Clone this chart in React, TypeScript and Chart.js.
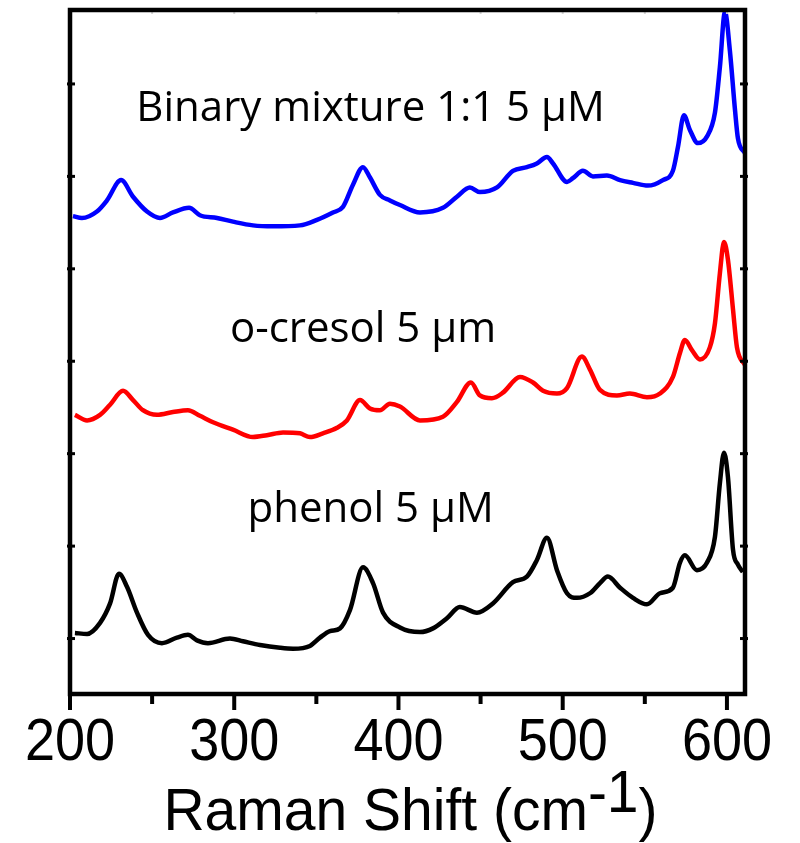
import React, { useEffect, useRef } from 'react';
import { Chart, registerables } from 'chart.js';

Chart.register(...registerables);

// Raman shift (cm-1) and intensity (a.u., offset stacked) for each spectrum
const mixtureX = [201.8, 207.3, 216.4, 222.5, 231.1, 238.4, 246.9, 254.8, 262.7, 272.5, 279.1, 289.5, 299.2, 311.4, 323.6, 340.0, 350.4, 360.1, 366.2, 372.3, 378.4, 382.6, 388.7, 394.8, 400.9, 413.1, 427.1, 435.6, 443.5, 449.6, 460.0, 469.7, 478.2, 484.3, 490.4, 494.1, 502.6, 506.2, 512.3, 518.4, 526.9, 534.9, 542.8, 551.9, 561.0, 567.1, 570.2, 573.8, 577.5, 582.3, 587.8, 592.7, 595.7, 598.8, 601.8, 604.9, 606.7, 611.0];
const mixtureY = [4.57, 4.55, 4.62, 4.74, 4.96, 4.78, 4.62, 4.55, 4.61, 4.66, 4.58, 4.55, 4.51, 4.47, 4.46, 4.47, 4.53, 4.61, 4.67, 4.91, 5.10, 4.99, 4.80, 4.74, 4.69, 4.61, 4.66, 4.78, 4.88, 4.83, 4.88, 5.06, 5.10, 5.14, 5.21, 5.14, 4.94, 4.98, 5.06, 5.00, 5.01, 4.96, 4.93, 4.90, 4.96, 5.06, 5.32, 5.66, 5.50, 5.36, 5.43, 5.69, 6.18, 6.78, 6.36, 5.72, 5.41, 5.25];

const cresolX = [203.0, 210.4, 218.3, 224.4, 232.3, 238.4, 244.4, 253.0, 262.7, 271.8, 279.1, 287.1, 299.2, 311.4, 319.9, 329.7, 340.0, 346.1, 354.0, 362.6, 368.6, 376.6, 382.6, 388.7, 394.8, 400.9, 413.1, 427.1, 435.6, 444.1, 449.6, 456.9, 463.6, 474.0, 481.9, 488.0, 496.5, 502.6, 511.7, 516.6, 522.7, 533.0, 540.9, 551.3, 559.2, 567.1, 571.4, 574.4, 578.7, 583.6, 589.6, 592.7, 595.7, 598.2, 600.6, 603.7, 606.1, 611.0];
const cresolY = [2.42, 2.36, 2.42, 2.53, 2.68, 2.58, 2.47, 2.42, 2.45, 2.47, 2.41, 2.34, 2.26, 2.18, 2.20, 2.23, 2.22, 2.18, 2.22, 2.28, 2.36, 2.58, 2.49, 2.47, 2.54, 2.51, 2.36, 2.40, 2.56, 2.77, 2.63, 2.60, 2.66, 2.83, 2.77, 2.68, 2.65, 2.71, 3.05, 2.91, 2.69, 2.63, 2.65, 2.61, 2.65, 2.83, 3.09, 3.23, 3.12, 3.02, 3.15, 3.41, 3.95, 4.29, 4.10, 3.56, 3.15, 2.96];

const phenolX = [203.0, 210.4, 218.3, 224.4, 229.8, 234.7, 240.8, 247.5, 256.0, 265.1, 271.8, 277.3, 284.0, 297.4, 305.3, 315.7, 327.9, 335.8, 346.1, 352.2, 358.3, 364.4, 370.5, 378.4, 384.5, 390.6, 400.9, 413.1, 421.0, 429.5, 437.4, 447.8, 457.5, 469.7, 478.2, 484.3, 490.4, 496.5, 502.6, 508.7, 516.6, 522.7, 527.5, 534.9, 542.8, 551.3, 559.2, 567.1, 571.4, 574.4, 581.7, 587.8, 592.7, 595.7, 598.2, 600.6, 603.7, 606.7, 609.7];
const phenolY = [0.06, 0.05, 0.17, 0.38, 0.70, 0.56, 0.28, 0.04, -0.05, 0.01, 0.04, -0.02, -0.05, 0.00, -0.03, -0.07, -0.10, -0.11, -0.08, 0.01, 0.08, 0.11, 0.31, 0.77, 0.60, 0.28, 0.12, 0.07, 0.11, 0.22, 0.34, 0.28, 0.38, 0.61, 0.67, 0.85, 1.09, 0.74, 0.49, 0.44, 0.49, 0.60, 0.67, 0.55, 0.44, 0.37, 0.49, 0.55, 0.82, 0.90, 0.74, 0.82, 1.10, 1.68, 2.01, 1.75, 0.96, 0.80, 0.72];

const xTickValues = [200, 300, 400, 500, 600];
const xMinorTickValues = [250, 350, 450, 550];
const yTickValues = [0, 1, 2, 3, 4, 5, 6];

const seriesLabels = ['Binary mixture 1:1 5 µM', 'o-cresol 5 µm', 'phenol 5 µM'];
const seriesColors = ['#0000ff', '#ff0000', '#000000'];
const labelPosX = [383, 378.4, 383];
const labelPosY = [5.6, 3.21, 1.26];

const axisTitleMain = 'Raman Shift (cm';
const axisTitleSup = '-1';
const axisTitleEnd = ')';

const AXIS_FONT = '"Liberation Sans", Arial, sans-serif';

const toPoints = (xs: number[], ys: number[]) => xs.map((x, i) => ({ x, y: ys[i] }));

const framePlugin = {
  id: 'frameAndText',
  afterDraw(chart: any) {
    const { ctx, chartArea: a, scales } = chart;
    const xs = scales.x;
    const ys = scales.y;
    const line = (x1: number, y1: number, x2: number, y2: number) => {
      ctx.beginPath();
      ctx.moveTo(x1, y1);
      ctx.lineTo(x2, y2);
      ctx.stroke();
    };
    ctx.save();
    // faint top ticks
    ctx.strokeStyle = '#d5d5d5';
    ctx.lineWidth = 2;
    [...xTickValues, ...xMinorTickValues].forEach((v) => {
      const px = xs.getPixelForValue(v);
      line(px, a.top + 1, px, a.top + 4);
    });
    // frame
    ctx.strokeStyle = '#000';
    ctx.lineWidth = 4.5;
    ctx.strokeRect(a.left, a.top, a.right - a.left, a.bottom - a.top);
    // x ticks
    ctx.lineWidth = 4;
    xTickValues.forEach((v) => {
      const px = xs.getPixelForValue(v);
      line(px, a.bottom, px, a.bottom + 16);
    });
    xMinorTickValues.forEach((v) => {
      const px = xs.getPixelForValue(v);
      line(px, a.bottom, px, a.bottom + 10);
    });
    // y ticks (left and right)
    ctx.lineWidth = 3;
    yTickValues.forEach((v) => {
      const py = ys.getPixelForValue(v);
      line(a.left - 3, py, a.left + 5, py);
      line(a.right - 5, py, a.right + 3, py);
    });
    // x tick labels (condensed)
    ctx.fillStyle = '#000';
    ctx.font = '60px ' + AXIS_FONT;
    ctx.textAlign = 'center';
    ctx.textBaseline = 'alphabetic';
    const sx = 0.9;
    xTickValues.forEach((v) => {
      const px = xs.getPixelForValue(v);
      ctx.save();
      ctx.translate(px, 760);
      ctx.scale(sx, 1);
      ctx.fillText(String(v), 0, 0);
      ctx.restore();
    });
    // series labels
    ctx.font = '42px "Open Sans", Lato, sans-serif';
    seriesLabels.forEach((t, i) => {
      ctx.fillText(t, xs.getPixelForValue(labelPosX[i]), ys.getPixelForValue(labelPosY[i]));
    });
    // axis title with superscript
    ctx.font = '60px ' + AXIS_FONT;
    ctx.textAlign = 'left';
    const st = 0.95;
    const w1 = ctx.measureText(axisTitleMain).width;
    const w2 = ctx.measureText(axisTitleSup).width;
    const w3 = ctx.measureText(axisTitleEnd).width;
    const total = (w1 + w2 + w3) * st;
    const start = (a.left + a.right) / 2 - total / 2 + 3;
    const base = 830;
    ctx.save();
    ctx.translate(start, base);
    ctx.scale(st, 1);
    ctx.fillText(axisTitleMain, 0, 0);
    ctx.fillText(axisTitleSup, w1, -18);
    ctx.fillText(axisTitleEnd, w1 + w2, 0);
    ctx.restore();
    ctx.restore();
  },
};

export default function App() {
  const ref = useRef<HTMLCanvasElement | null>(null);
  useEffect(() => {
    if (!ref.current) return;
    const chart = new Chart(ref.current, {
      type: 'line',
      data: {
        datasets: [
          { label: seriesLabels[0], data: toPoints(mixtureX, mixtureY), borderColor: seriesColors[0] },
          { label: seriesLabels[1], data: toPoints(cresolX, cresolY), borderColor: seriesColors[1] },
          { label: seriesLabels[2], data: toPoints(phenolX, phenolY), borderColor: seriesColors[2] },
        ].map((d) => ({
          ...d,
          borderWidth: 4.5,
          pointRadius: 0,
          fill: false,
          tension: 0.3,
          cubicInterpolationMode: 'monotone' as const,
        })),
      },
      options: {
        animation: false,
        responsive: false,
        devicePixelRatio: 1,
        layout: { padding: { left: 70, top: 10, right: 55, bottom: 0 } },
        plugins: { legend: { display: false }, tooltip: { enabled: false } },
        scales: {
          x: {
            type: 'linear',
            min: 200,
            max: 611,
            grid: { display: false, drawTicks: false },
            border: { display: false },
            ticks: { display: false },
            afterBuildTicks: (s: any) => {
              s.ticks = xTickValues.map((v) => ({ value: v }));
            },
            afterFit: (s: any) => {
              s.height = 149;
            },
          },
          y: {
            type: 'linear',
            display: false,
            min: -0.6,
            max: 6.8,
          },
        },
      },
      plugins: [framePlugin],
    });
    return () => chart.destroy();
  }, []);
  return (
    <div style={{ position: 'absolute', left: 0, top: 0, width: 800, height: 843 }}>
      <canvas ref={ref} width={800} height={843} />
    </div>
  );
}
